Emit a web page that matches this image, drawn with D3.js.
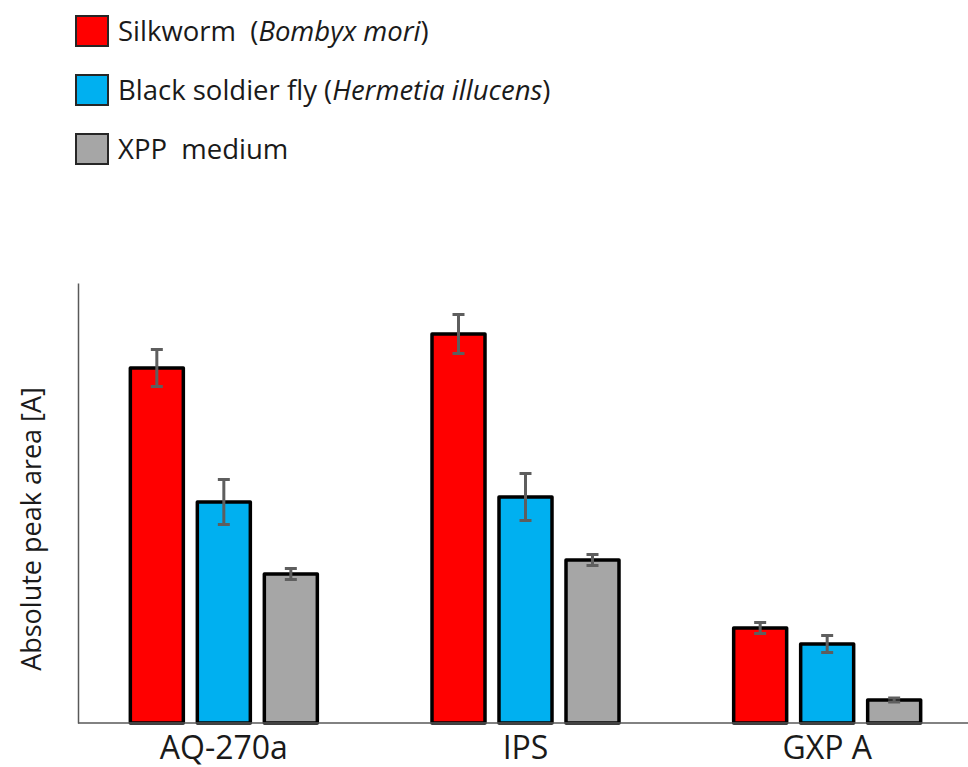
<!DOCTYPE html>
<html>
<head>
<meta charset="utf-8">
<script src="https://cdn.jsdelivr.net/npm/d3@7"></script>
<style>
  body { margin: 0; background: #fff; }
  text { font-family: "Open Sans", sans-serif; fill: #1a1a1a; }
</style>
</head>
<body>
<div id="chart-area"></div>
<script>
// data (arbitrary peak-area units)
const compounds = ["AQ-270a", "IPS", "GXP A"];
const seriesNames = ["Silkworm", "Black soldier fly", "XPP medium"];
const silkworm = [355, 389, 95];
const silkwormErr = [18.5, 19.5, 5.5];
const soldierFly = [221, 226, 79];
const soldierFlyErr = [22.5, 23.5, 8.5];
const xppMedium = [149, 163, 23];
const xppMediumErr = [5.5, 5.5, 2];
const colors = ["#ff0000", "#00b0f0", "#a6a6a6"];

const width = 968;
const height = 767;

const seriesValues = [silkworm, soldierFly, xppMedium];
const seriesErrs = [silkwormErr, soldierFlyErr, xppMediumErr];

const data = [];
compounds.forEach((c, i) => {
    seriesNames.forEach((s, j) => {
        data.push({ compound: c, series: s, value: seriesValues[j][i], err: seriesErrs[j][i], color: colors[j] });
    });
});

const svg = d3.select('#chart-area')
    .append('svg')
    .attr("width", width)
    .attr("height", height);

const x0 = d3.scaleBand()
    .domain(compounds)
    .range([73, 978])
    .paddingInner(0)
    .paddingOuter(0);

const x1 = d3.scaleBand()
    .domain(seriesNames)
    .range([-93.5, 93.5])
    .paddingInner(14 / 67)
    .paddingOuter(0);

const y = d3.scaleLinear()
    .domain([0, 440])
    .range([723, 283]);

// bars
svg.append('g')
    .selectAll('rect')
    .data(data)
    .enter()
    .append('rect')
    .attr('x', d => x0(d.compound) + x0.bandwidth() / 2 + x1(d.series))
    .attr('y', d => y(d.value))
    .attr('width', x1.bandwidth())
    .attr('height', d => y(0) - y(d.value))
    .attr('fill', d => d.color)
    .attr('stroke', '#000')
    .attr('stroke-width', 3.5)
    .attr('stroke-linejoin', 'round');

// error bars
const eb = svg.append('g')
    .attr('stroke', '#5e5e5e')
    .attr('stroke-width', 3);

data.forEach(d => {
    const cx = x0(d.compound) + x0.bandwidth() / 2 + x1(d.series) + x1.bandwidth() / 2;
    eb.append('line')
        .attr('x1', cx).attr('x2', cx)
        .attr('y1', y(d.value + d.err)).attr('y2', y(d.value - d.err));
    [d.value + d.err, d.value - d.err].forEach(v => {
        eb.append('line')
            .attr('x1', cx - 6).attr('x2', cx + 6)
            .attr('y1', y(v)).attr('y2', y(v));
    });
});

// axes
const xAxis = d3.axisBottom(x0).tickSize(0).tickPadding(13);
const gx = svg.append('g')
    .attr('transform', `translate(0, ${y(0)})`)
    .call(xAxis);
gx.select('.domain').attr('d', `M78,0H968`).attr('stroke', '#595959').attr('stroke-width', 1.5);
gx.selectAll('.tick text')
    .attr('font-size', '32px')
    .attr('font-family', '"Open Sans", sans-serif')
    .style('fill', '#1a1a1a');

const yAxis = d3.axisLeft(y).tickValues([]).tickSizeOuter(0);
const gy = svg.append('g')
    .attr('transform', 'translate(78, 0)')
    .call(yAxis);
gy.select('.domain').attr('stroke', '#595959').attr('stroke-width', 1.5);

svg.append('text')
    .attr('transform', 'translate(41, 529) rotate(-90)')
    .attr('text-anchor', 'middle')
    .attr('font-size', '27px')
    .text("Absolute peak area [A]");

// legend
const legendItems = [
    { color: colors[0], parts: [["Silkworm  (", "normal"], ["Bombyx mori", "italic"], [")", "normal"]] },
    { color: colors[1], parts: [["Black soldier fly (", "normal"], ["Hermetia illucens", "italic"], [")", "normal"]] },
    { color: colors[2], parts: [["XPP  medium", "normal"]] }
];

const legend = svg.append('g');
legendItems.forEach((item, i) => {
    const top = 16 + i * 59;
    legend.append('rect')
        .attr('x', 76).attr('y', top)
        .attr('width', 32).attr('height', 30)
        .attr('fill', item.color)
        .attr('stroke', '#262626')
        .attr('stroke-width', 2);
    const t = legend.append('text')
        .attr('x', 118).attr('y', top + 25)
        .attr('font-size', '27.5px')
        .attr('xml:space', 'preserve')
        .style('white-space', 'pre');
    item.parts.forEach(p => {
        t.append('tspan').attr('font-style', p[1]).text(p[0]);
    });
});
</script>
</body>
</html>
